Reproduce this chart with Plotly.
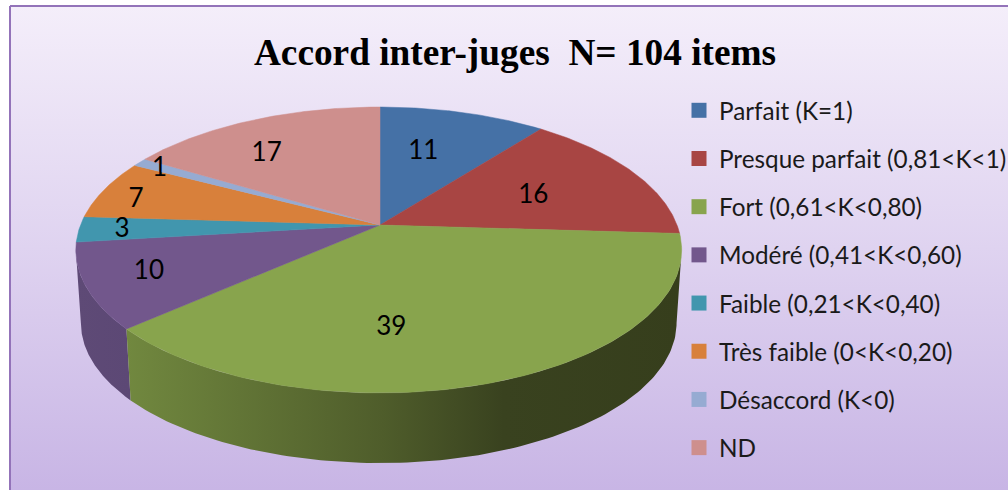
import numpy as np
import plotly.graph_objects as go

TITLE = "Accord inter-juges\u00a0\u00a0N= 104 items"
CATEGORIES = ["Parfait (K=1)", "Presque parfait (0,81<K<1)", "Fort (0,61<K<0,80)",
              "Modéré (0,41<K<0,60)", "Faible (0,21<K<0,40)", "Très faible (0<K<0,20)",
              "Désaccord (K<0)", "ND"]
VALUES = [11, 16, 39, 10, 3, 7, 1, 17]
COLORS = ["#4571a6", "#a84543", "#88a44d", "#72578c", "#4196ae", "#d8803b", "#96abd2", "#ce8f8d"]
LABEL_TURN = [-4.2, 0, 16, 2, 1, -1.6, 0.7, -6]
LABEL_RADIUS = [0.63, 0.59, 0.64, 0.79, 0.86, 0.87, 0.92, 0.72]

CX, CY, A, B, K = 380, 225, 297, 138.6, 0.1748
CY2, A2, B2 = 298.6, 292, 135.7
LEFT_STRETCH = 2.5
LABEL_NUDGE_Y = 3.5
FONT = "Lato"


def project(theta_deg, r=1.0, cy=CY, a=A, b=B):
    t = np.radians(theta_deg)
    w = 1 + K * r * np.cos(t)
    s = np.sin(t)
    return CX + (a + LEFT_STRETCH * (s < 0)) * r * s / w, cy - b * r * np.cos(t) / w


def wall(t0, t1, name, scale):
    t = np.linspace(t0, t1, 120)
    x1, y1 = project(t)
    x2, y2 = project(t[::-1], cy=CY2, a=A2, b=B2)
    xs = np.r_[x1, x2, x1[0]]
    ys = np.r_[y1, y2, y1[0]]
    return go.Scatter(x=xs, y=ys, mode="lines", fill="toself", line=dict(width=0), name=name,
                      fillgradient=dict(type="horizontal", colorscale=scale,
                                        start=float(xs.min()), stop=float(xs.max())),
                      hoverinfo="skip", showlegend=False)


edges = np.r_[0, np.cumsum(VALUES)] * 360 / sum(VALUES)
fig = go.Figure()

# chart-area background
fig.add_trace(go.Scatter(x=[10, 1030, 1030, 10, 10], y=[6, 6, 510, 510, 6], mode="lines", fill="toself",
                         line=dict(color="#9373b9", width=2), hoverinfo="skip", showlegend=False,
                         fillgradient=dict(type="vertical", start=6, stop=490,
                                           colorscale=[[0, "#f4eefa"], [0.5, "#dfd3f0"], [1, "#c8b5e5"]])))

# side walls of the visible front slices
LEFT_TANGENT = 360 - np.degrees(np.arccos(-K))
RIGHT_TANGENT = np.degrees(np.arccos(-K))
fig.add_trace(wall(edges[3], LEFT_TANGENT, "Modéré wall", [[0, "#5e4a76"], [1, "#5c4875"]]))
fig.add_trace(wall(RIGHT_TANGENT, edges[3], "Fort wall",
                   [[0, "#71883f"], [0.46, "#4f5d2b"], [0.68, "#39421f"], [1, "#363e1c"]]))

# top face slices
for i, (cat, col) in enumerate(zip(CATEGORIES, COLORS)):
    t = np.linspace(edges[i], edges[i + 1], 100)
    x, y = project(t)
    fig.add_trace(go.Scatter(x=np.r_[CX, x, CX], y=np.r_[CY, y, CY], mode="lines", fill="toself",
                             fillcolor=col, line=dict(color=col, width=0.5), name=cat,
                             hoverinfo="skip", showlegend=False))

# value labels
mids = (edges[:-1] + edges[1:]) / 2 + np.array(LABEL_TURN)
lx, ly = zip(*[project(m, r) for m, r in zip(mids, LABEL_RADIUS)])
fig.add_trace(go.Scatter(x=lx, y=np.array(ly) + LABEL_NUDGE_Y, mode="text", text=[str(v) for v in VALUES],
                         textposition="middle center", textfont=dict(family=FONT, size=26, color="#000"),
                         hoverinfo="skip", showlegend=False))

# legend entries
for cat, col in zip(CATEGORIES, COLORS):
    fig.add_trace(go.Scatter(x=[None], y=[None], mode="markers", name=cat, legendgroup=cat,
                             marker=dict(symbol="square", size=15, color=col)))

fig.update_layout(
    width=1008, height=490, margin=dict(l=0, r=0, t=0, b=0, autoexpand=False),
    paper_bgcolor="white", plot_bgcolor="white",
    xaxis=dict(range=[0, 1008], visible=False, fixedrange=True),
    yaxis=dict(range=[490, 0], visible=False, fixedrange=True),
    title=dict(text=TITLE, x=515 / 1008, xanchor="center", y=1 - 52 / 490, yanchor="middle",
               font=dict(family="Liberation Serif", size=37.3, color="#000", weight="bold")),
    legend=dict(x=679 / 1008, y=1 - 88 / 490, xanchor="left", yanchor="top", bgcolor="rgba(0,0,0,0)",
                tracegroupgap=13.6, font=dict(family=FONT, size=24.3, color="#1a1a1a"), traceorder="grouped",
                itemwidth=30),
)
fig.write_html("out.html", config={"displayModeBar": False},
               post_script="document.body.style.margin='0';document.body.style.overflow='hidden';")
